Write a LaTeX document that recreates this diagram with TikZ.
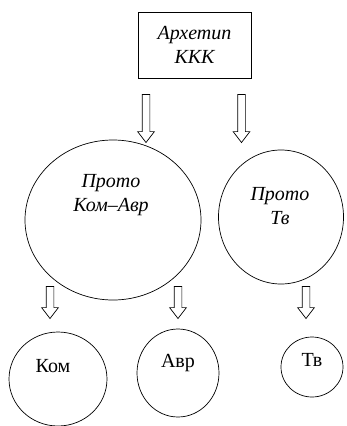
\documentclass[tikz,border=0pt]{standalone}
\usepackage{fontspec}
\setmainfont{Liberation Serif}
\usetikzlibrary{shapes.geometric,shapes.arrows}

\begin{document}
\begin{tikzpicture}[x=1pt,y=-1pt,line width=0.7pt,
    blob/.style={ellipse, draw, inner sep=0pt},
    txt/.style={align=center, font=\fontsize{20}{24}\selectfont},
    down/.style={single arrow, draw, rotate=-90, inner xsep=0pt, inner ysep=3.5pt, minimum width=16pt,
      single arrow head extend=4.5pt, single arrow tip angle=75, text width=0pt}]
  \useasboundingbox (0,0) rectangle (346,426);
  % archetype
  \node [draw, minimum width=113pt, minimum height=66pt, txt] (arch) at (194.5,45) {\itshape Архетип\\\itshape ККК};
  % proto-languages
  \node [blob, minimum width=176pt, minimum height=160pt] (pka) at (113,220) {};
  \node [txt] (pkat) at (111,195) {\itshape Прото\\\itshape Ком–Авр};
  \node [blob, minimum width=125pt, minimum height=134pt] (ptv) at (281,217) {};
  \node [txt] (ptvt) at (280,206) {\itshape Прото\\\itshape Тв};
  % daughter languages
  \node [blob, minimum width=98pt, minimum height=94pt] (kom) at (58,379) {};
  \node [txt] (komt) at (53,366) {Ком};
  \node [blob, minimum width=82pt, minimum height=88pt] (avr) at (178,373) {};
  \node [txt] (avrt) at (178,363) {Авр};
  \node [blob, minimum width=62pt, minimum height=60pt] (tv) at (312,367) {};
  \node [txt] (tvt) at (312,360) {Тв};
  % arrows
  \node [down, minimum height=48pt] (a1) at (146,116) {};
  \node [down, minimum height=48pt] (a2) at (241.5,116) {};
  \node [down, minimum height=32pt] (a3) at (50,300) {};
  \node [down, minimum height=32pt] (a4) at (178,300) {};
  \node [down, minimum height=32pt] (a5) at (306,300) {};
\end{tikzpicture}
\end{document}
